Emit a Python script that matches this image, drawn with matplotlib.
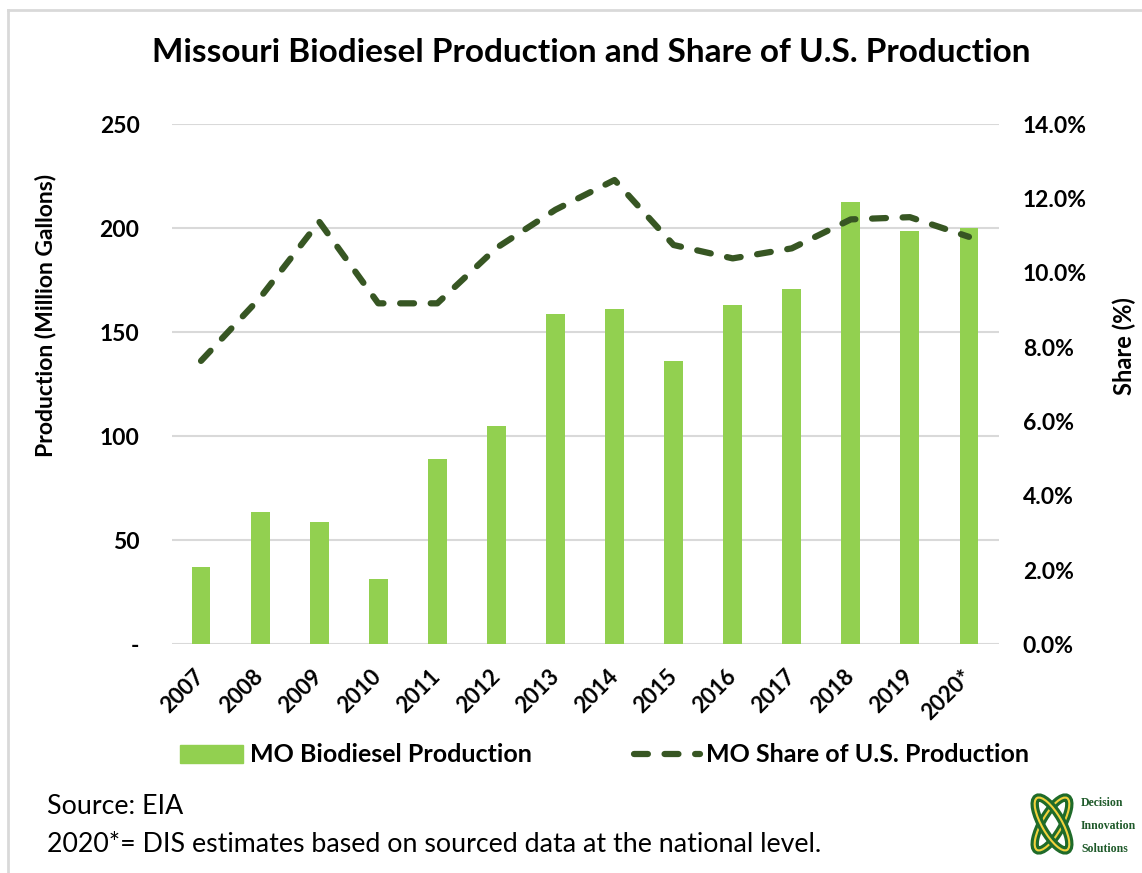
import matplotlib
matplotlib.use("Agg")
import matplotlib.pyplot as plt
import matplotlib.transforms as mtrans
from matplotlib.patches import Rectangle, Ellipse
from matplotlib.lines import Line2D
from matplotlib.ticker import FuncFormatter, FixedLocator

# ---- data ----
years = ["2007", "2008", "2009", "2010", "2011", "2012", "2013", "2014",
         "2015", "2016", "2017", "2018", "2019", "2020*"]
production = [37, 63.5, 58.7, 31.3, 89, 105, 158.8, 161, 136, 163, 171, 212.6, 198.6, 200.3]
share_pct = [7.63, 9.33, 11.38, 9.18, 9.18, 10.67, 11.7, 12.5, 10.75, 10.39, 10.66, 11.44, 11.5, 10.97]
left_ticks = [0, 50, 100, 150, 200, 250]
right_ticks = [0, 2, 4, 6, 8, 10, 12, 14]

FONT = ["Lato", "DejaVu Sans"]
plt.rcParams['font.family'] = FONT
plt.rcParams['lines.scale_dashes'] = False

W, H = 1142, 873
fig = plt.figure(figsize=(W / 100, H / 100), dpi=100)
fig.patch.set_facecolor("white")

def fx(px):
    return px / W

def fy(py):
    return 1 - py / H

# outer frame (chart border, cropped at right/bottom)
fig.add_artist(Line2D([fx(8), fx(8)], [fy(10), fy(873)], color="#d9d9d9", lw=2, transform=fig.transFigure))
fig.add_artist(Line2D([fx(8), fx(1142)], [fy(10), fy(10)], color="#d9d9d9", lw=2, transform=fig.transFigure))

left, right, top, bottom = 171.5, 998.5, 124.3, 644.3
ax = fig.add_axes([fx(left), fy(bottom), fx(right - left), (bottom - top) / H])
ax2 = ax.twinx()

x = list(range(len(years)))
ax.bar(x, production, width=0.32, color="#92D050", zorder=3)
ax.set_xlim(-0.5, len(years) - 0.5)
ax.set_ylim(0, 250)
ax.yaxis.set_major_locator(FixedLocator(left_ticks))
ax.yaxis.set_major_formatter(FuncFormatter(lambda v, p: "-" if v == 0 else f"{int(v)}"))
ax.grid(axis="y", color="#d9d9d9", lw=1.5, zorder=0)
ax.set_axisbelow(True)
for s in ax.spines.values():
    s.set_visible(False)
for s in ax2.spines.values():
    s.set_visible(False)
ax.tick_params(axis="y", length=0, pad=23, labelsize=16.5)
for lab in ax.get_yticklabels():
    lab.set_fontweight("bold")
ax.set_xticks(x)
ax.set_xticklabels(years, rotation=45, ha="right", va="center", rotation_mode="anchor",
                   fontsize=16, fontweight="bold")
ax.tick_params(axis="x", length=0, pad=21)

ax2.plot(x, share_pct, color="#375623", lw=4.5, dashes=(10, 12), dash_capstyle="round",
         solid_capstyle="round", zorder=4)
ax2.set_ylim(0, 14)
ax2.yaxis.set_major_locator(FixedLocator(right_ticks))
ax2.yaxis.set_major_formatter(FuncFormatter(lambda v, p: f"{v:.1f}%"))
ax2.tick_params(axis="y", length=0, pad=17.5, labelsize=16.5)
for lab in ax2.get_yticklabels():
    lab.set_fontweight("bold")

# axis labels
fig.text(fx(46), fy(315), "Production (Million Gallons)", rotation=90, ha="center", va="center",
         fontsize=16.5, fontweight="bold")
fig.text(fx(1124), fy(346), "Share (%)", rotation=90, ha="center", va="center",
         fontsize=17, fontweight="bold")

# title
fig.text(fx(591), fy(52), "Missouri Biodiesel Production and Share of U.S. Production",
         ha="center", va="center", fontsize=24, fontweight="bold")

# legend
fig.add_artist(Rectangle((fx(180), fy(763)), fx(63), 18 / H, color="#92D050", transform=fig.transFigure))
fig.text(fx(250), fy(754), "MO Biodiesel Production", ha="left", va="center", fontsize=18, fontweight="bold")
fig.add_artist(Line2D([fx(634), fx(700)], [fy(754), fy(754)], color="#375623", lw=4.5, dashes=(10, 12),
                      dash_capstyle="round", transform=fig.transFigure))
fig.text(fx(706), fy(754), "MO Share of U.S. Production", ha="left", va="center", fontsize=18, fontweight="bold")

# source notes
fig.text(fx(47), fy(806), "Source: EIA", ha="left", va="center", fontsize=19.3)
fig.text(fx(47), fy(845), "2020*= DIS estimates based on sourced data at the national level.",
         ha="left", va="center", fontsize=19.3)

# logo (approximation of knot emblem)
for ang in (60, -60):
    for ec, lw in (("#1f6b2a", 6), ("#f2d23c", 1.5)):
        e = Ellipse((0, 0), 60, 20, angle=ang, fill=False, edgecolor=ec, lw=lw)
        e.set_transform(mtrans.Affine2D().translate(1052, H - 824))
        fig.add_artist(e)
for i, word in enumerate(["Decision", "Innovation", "Solutions"]):
    fig.text(fx(1081), fy(803 + i * 23), word, ha="left", va="center", fontsize=8.5,
             fontweight="bold", color="#1f5a2a", family=["Liberation Serif", "DejaVu Serif"])

fig.savefig("out.png", dpi=100)
